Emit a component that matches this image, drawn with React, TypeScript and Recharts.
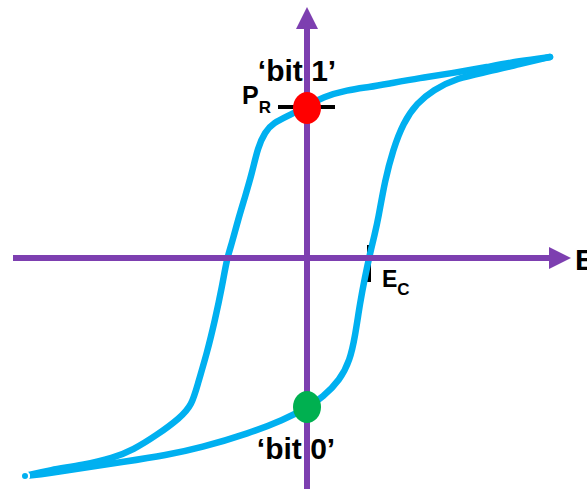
import {
  ComposedChart,
  Line,
  Scatter,
  XAxis,
  YAxis,
  ReferenceLine,
  ReferenceDot,
} from "recharts";

// Hysteresis loop, E (field) vs P (polarization), arbitrary units, origin at the axis crossing
const downE = [24.3, 21.3, 18.0, 14.6, 11.3, 8.0, 6.3, 4.0, 1.6, 0, -1.7, -3.4, -4.2, -4.9, -5.5, -6.2, -6.9, -7.5, -8.0, -8.5, -9.2, -10.0, -10.9, -11.5, -12.7, -15.0, -17.4, -19.4, -22.4, -25.7, -28.2];
const downP = [20.1, 19.7, 19.1, 18.5, 18.0, 17.4, 17.1, 16.8, 16.1, 15.2, 14.3, 13.5, 12.6, 11.1, 8.5, 6.1, 3.8, 1.5, 0, -2.9, -6.2, -9.5, -12.5, -14.7, -16.0, -17.7, -19.2, -20.0, -20.7, -21.2, -21.8];

const upE = [-28.2, -25.7, -22.4, -18.4, -14.0, -10.7, -5.7, -2.4, 0, 1.6, 3.3, 4.3, 4.8, 5.3, 5.8, 6.2, 6.8, 7.1, 7.8, 8.6, 9.6, 11.0, 12.6, 15.0, 18.0, 21.3, 24.3];
const upP = [-21.8, -21.5, -21.0, -20.4, -19.7, -19.0, -17.5, -16.2, -15.0, -13.9, -12.2, -10.2, -7.9, -4.5, -1.9, 0, 2.5, 3.8, 7.8, 10.8, 13.5, 15.5, 16.8, 18.0, 18.6, 19.4, 20.1];

// remanent polarization and coercive field
const pr = 15.1;
const ec = 6.2;
const bitOne = [{ e: 0, p: 15.0 }];
const bitZero = [{ e: 0, p: -14.9 }];

// axis extents
const eRange = [-29.4, 26.4];
const pRange = [-23.1, 25.1];

const zip = (xs: number[], ys: number[]) => xs.map((e, i) => ({ e, p: ys[i] }));
const downBranch = zip(downE, downP);
const upBranch = zip(upE, upP);

const PURPLE = "#7d3fb0";
const BLUE = "#00b0f0";
const FONT = "'Liberation Sans', Arial, sans-serif";

const Arrow = (props: any) => {
  const { x1, y1, x2, y2 } = props;
  const dx = x2 - x1;
  const dy = y2 - y1;
  const len = Math.sqrt(dx * dx + dy * dy) || 1;
  const ux = dx / len;
  const uy = dy / len;
  const head = 22;
  const half = 11;
  const bx = x2 - ux * head;
  const by = y2 - uy * head;
  const pts = `${x2},${y2} ${bx - uy * half},${by + ux * half} ${bx + uy * half},${by - ux * half}`;
  return (
    <g>
      <line x1={x1} y1={y1} x2={bx + ux} y2={by + uy} stroke={PURPLE} strokeWidth={6} />
      <polygon points={pts} fill={PURPLE} />
    </g>
  );
};

const Blob = (color: string) => (props: any) => (
  <ellipse cx={props.cx} cy={props.cy} rx={14} ry={16} fill={color} />
);

const label = (text: string, dx: number, dy: number, size: number) => (props: any) => (
  <text
    x={props.cx + dx}
    y={props.cy + dy}
    textAnchor="middle"
    fontFamily={FONT}
    fontWeight="bold"
    fontSize={size}
    fill="#000"
  >
    {text}
  </text>
);

const subLabel = (main: string, sub: string, dx: number, dy: number, size: number, subSize: number, drop: number) => (props: any) => (
  <text x={props.cx + dx} y={props.cy + dy} fontFamily={FONT} fontWeight="bold" fontSize={size} fill="#000">
    {main}
    <tspan fontSize={subSize} dy={drop}>
      {sub}
    </tspan>
  </text>
);

export default function App() {
  return (
    <div style={{ position: "absolute", left: 0, top: 0, background: "#fff" }}>
      <ComposedChart width={587} height={489} margin={{ top: 0, right: 0, bottom: 0, left: 0 }}>
        <XAxis type="number" dataKey="e" domain={[-30.7, 28.0]} allowDataOverflow hide />
        <YAxis type="number" dataKey="p" domain={[-23.1, 25.8]} allowDataOverflow hide />

        {/* coercive field tick */}
        <ReferenceLine
          segment={[{ x: ec, y: 1.3 }, { x: ec, y: -2.4 }]}
          stroke="#000"
          strokeWidth={4}
          ifOverflow="visible"
        />

        <Line data={downBranch} dataKey="p" type="basis" stroke={BLUE} strokeWidth={6.5} strokeLinecap="round" strokeLinejoin="round" dot={false} isAnimationActive={false} />
        <Line data={upBranch} dataKey="p" type="basis" stroke={BLUE} strokeWidth={6.5} strokeLinecap="round" strokeLinejoin="round" dot={false} isAnimationActive={false} />

        <ReferenceLine segment={[{ x: eRange[0], y: 0 }, { x: eRange[1], y: 0 }]} shape={Arrow} ifOverflow="visible" />
        <ReferenceLine segment={[{ x: 0, y: pRange[0] }, { x: 0, y: pRange[1] }]} shape={Arrow} ifOverflow="visible" />

        {/* remanent polarization marker */}
        <ReferenceLine
          segment={[{ x: -2.9, y: pr }, { x: 2.8, y: pr }]}
          stroke="#000"
          strokeWidth={4}
          ifOverflow="visible"
        />

        <Scatter data={bitOne} dataKey="p" shape={Blob("#ff0000")} isAnimationActive={false} />
        <Scatter data={bitZero} dataKey="p" shape={Blob("#00b050")} isAnimationActive={false} />

        <ReferenceDot x={0} y={bitOne[0].p} r={0} shape={label("\u2018bit 1\u2019", -10, -27, 30)} ifOverflow="visible" />
        <ReferenceDot x={0} y={bitZero[0].p} r={0} shape={label("\u2018bit 0\u2019", -11, 52, 30)} ifOverflow="visible" />
        <ReferenceDot x={-2.9} y={pr} r={0} shape={subLabel("P", "R", -36, -3, 25, 17, 9)} ifOverflow="visible" />
        <ReferenceDot x={ec} y={0} r={0} shape={subLabel("E", "C", 13, 29, 23, 17, 8)} ifOverflow="visible" />
        <ReferenceDot x={eRange[1]} y={0} r={0} shape={subLabel("E", "", 4, 12, 30, 17, 0)} ifOverflow="visible" />
      </ComposedChart>
    </div>
  );
}
